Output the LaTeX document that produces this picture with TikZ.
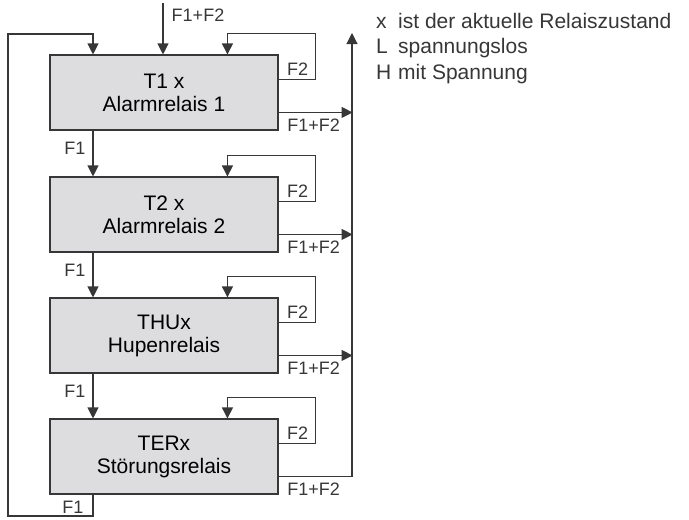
\documentclass[tikz,border=0pt]{standalone}
\usepackage{fontspec}
\setmainfont{Liberation Sans}
\usetikzlibrary{arrows.meta,calc}
\definecolor{ln}{RGB}{55,55,55}
\definecolor{bx}{RGB}{221,221,223}
\begin{document}
\begin{tikzpicture}[x=1pt,y=-1pt,
 relbox/.style={draw=ln, fill=bx, line width=1.1pt, minimum width=228pt, minimum height=75pt, inner sep=0pt, align=center, font=\fontsize{21}{23}\selectfont},
 lbl/.style={font=\fontsize{18}{18}\selectfont, inner sep=0pt, text=ln},
 leg/.style={font=\fontsize{21}{21}\selectfont, inner sep=0pt, anchor=base west, text=ln},
 conn/.style={draw=ln, line width=1.1pt},
 arr/.style={conn, -{Triangle[length=11pt,width=11pt]}},
]
\useasboundingbox (0,0) rectangle (689,520);
% boxes
\node[relbox] (b1) at (164,92.5) {T1 x\\Alarmrelais 1};
\node[relbox] (b2) at (164,214.5) {T2 x\\Alarmrelais 2};
\node[relbox] (b3) at (164,335.5) {THUx\\Hupenrelais};
\node[relbox] (b4) at (164,456.5) {TERx\\Störungsrelais};
% helper coordinates
\coordinate (f1x) at (93,0);
\coordinate (in) at (163,3);
\coordinate (lb) at (8,516);
\coordinate (lt) at (8,34);
\coordinate (up) at (352,33);
% top input
\draw[arr] (in) -- (in |- b1.north);
% left loop
\draw[arr] (b4.south -| f1x) |- (lb) -- (lt) -| (b1.north -| f1x);
% F1 arrows between boxes
\draw[arr] (b1.south -| f1x) -- (b2.north -| f1x);
\draw[arr] (b2.south -| f1x) -- (b3.north -| f1x);
\draw[arr] (b3.south -| f1x) -- (b4.north -| f1x);
% F2 loops
\foreach \b in {b1,b2,b3,b4}{
  \draw[arr] ($(\b.north east)+(0,25)$) -| ($(\b.north east)+(37,-21)$) -| ($(\b.north west)+(178,0)$);
}
% outputs
\foreach \b in {b1,b2,b3}{
  \draw[arr] ($(\b.north east)+(0,58)$) -- ($(\b.north east)+(74,58)$);
}
\draw[arr] ($(b4.north east)+(0,58)$) -| (up);
% labels
\node[lbl] (lin) at (198,15) {F1+F2};
\node[lbl] (l12) at (75,148) {F1};
\node[lbl] (l23) at (75,270) {F1};
\node[lbl] (l34) at (75,391) {F1};
\node[lbl] (l41) at (73,507) {F1};
\foreach \b/\n in {b1/1,b2/2,b3/3,b4/4}{
  \node[lbl] (f2\n) at ($(\b.north east)+(19,15)$) {F2};
  \node[lbl] (o\n) at ($(\b.north east)+(35,71)$) {F1+F2};
}
% legend
\node[leg] (k1) at (376,28) {x};
\node[leg] (t1) at (398,28) {ist der aktuelle Relaiszustand};
\node[leg] (k2) at (376,53.5) {L};
\node[leg] (t2) at (398,53.5) {spannungslos};
\node[leg] (k3) at (376,79) {H};
\node[leg] (t3) at (398,79) {mit Spannung};
\end{tikzpicture}
\end{document}
